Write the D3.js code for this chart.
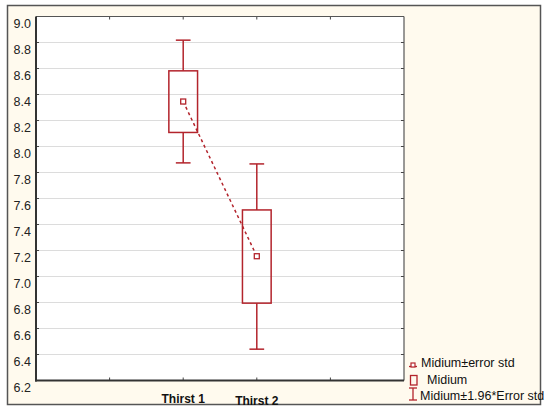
<!DOCTYPE html>
<html><head><meta charset="utf-8">
<script src="https://cdn.jsdelivr.net/npm/d3@7"></script>
<style>body{margin:0;background:#fff}svg{display:block}</style>
</head><body>
<svg id="c" width="550" height="414"></svg>
<script>
const categories = ["Thirst 1", "Thirst 2"];
const catPos = [2, 3];
const means = [8.346, 7.156];
const boxLow = [8.108, 6.795];
const boxHigh = [8.582, 7.512];
const whiskLow = [7.874, 6.441];
const whiskHigh = [8.818, 7.866];
const yTicks = [6.2, 6.4, 6.6, 6.8, 7.0, 7.2, 7.4, 7.6, 7.8, 8.0, 8.2, 8.4, 8.6, 8.8, 9.0];
const xTicks = [1, 2, 3, 4];
const legendLabels = ["Midium\u00b1error std", "Midium", "Midium\u00b11.96*Error std"];

const red = "#b3242c";
const svg = d3.select("#c");
const L = 36, R = 404, T = 16.5, B = 380.5;
const x = d3.scaleLinear().domain([0, 5]).range([L, R]);
const y = d3.scaleLinear().domain([6.2, 9.0]).range([B, T]);

// outer frame
svg.append("rect").attr("x", 7.5).attr("y", 5.5).attr("width", 533).attr("height", 399)
  .attr("fill", "#fffaee").attr("stroke", "#555").attr("stroke-width", 1.5);
// plot area
svg.append("rect").attr("x", L).attr("y", T).attr("width", R - L).attr("height", B - T).attr("fill", "#fff");

// gridlines
svg.append("g").selectAll("line").data(yTicks.filter(v => v > 6.2 && v < 9.0)).join("line")
  .attr("x1", L).attr("x2", R).attr("y1", d => y(d)).attr("y2", d => y(d))
  .attr("stroke", "#dcdcdc").attr("stroke-width", 1.2);

// y axis labels
svg.append("g").selectAll("text").data(yTicks).join("text")
  .attr("x", 31).attr("y", d => y(d) + 7).attr("text-anchor", "end").attr("dominant-baseline", "central")
  .attr("font-family", "Arial, Liberation Sans, sans-serif").attr("font-size", 12.5).attr("fill", "#222")
  .text(d => d.toFixed(1));

// ticks on right border
svg.append("g").selectAll("line").data(yTicks).join("line")
  .attr("x1", R - 3).attr("x2", R).attr("y1", d => y(d)).attr("y2", d => y(d))
  .attr("stroke", "#444").attr("stroke-width", 1);
// ticks on left axis
svg.append("g").selectAll("line").data(yTicks).join("line")
  .attr("x1", L).attr("x2", L + 3).attr("y1", d => y(d)).attr("y2", d => y(d))
  .attr("stroke", "#444").attr("stroke-width", 1);
// x ticks top & bottom
svg.append("g").selectAll("line").data(xTicks).join("line")
  .attr("x1", d => x(d)).attr("x2", d => x(d)).attr("y1", T).attr("y2", T + 3)
  .attr("stroke", "#444").attr("stroke-width", 1);
svg.append("g").selectAll("line").data(xTicks).join("line")
  .attr("x1", d => x(d)).attr("x2", d => x(d)).attr("y1", B - 3).attr("y2", B)
  .attr("stroke", "#444").attr("stroke-width", 1);

// plot borders
svg.append("line").attr("x1", L).attr("x2", R).attr("y1", T).attr("y2", T).attr("stroke", "#555").attr("stroke-width", 1.2);
svg.append("line").attr("x1", R).attr("x2", R).attr("y1", T).attr("y2", B).attr("stroke", "#555").attr("stroke-width", 1.2);
svg.append("line").attr("x1", L).attr("x2", L).attr("y1", T).attr("y2", B + 1).attr("stroke", "#333").attr("stroke-width", 2);
svg.append("line").attr("x1", L - 1).attr("x2", R).attr("y1", B).attr("y2", B).attr("stroke", "#333").attr("stroke-width", 2);

// x labels
svg.append("g").selectAll("text").data(categories).join("text")
  .attr("x", (d, i) => x(catPos[i])).attr("y", (d, i) => 402.5 + i * 2).attr("text-anchor", "middle")
  .attr("font-family", "Arial, Liberation Sans, sans-serif").attr("font-size", 12).attr("font-weight", "bold").attr("fill", "#111")
  .text(d => d);

const bw = 0.39, cw = 0.2;
const g = svg.append("g");
categories.forEach((c, i) => {
  const cx = x(catPos[i]);
  g.append("line").attr("x1", cx).attr("x2", cx).attr("y1", y(whiskHigh[i])).attr("y2", y(boxHigh[i]))
    .attr("stroke", red).attr("stroke-width", 1.5);
  g.append("line").attr("x1", cx).attr("x2", cx).attr("y1", y(boxLow[i])).attr("y2", y(whiskLow[i]))
    .attr("stroke", red).attr("stroke-width", 1.5);
  [whiskHigh[i], whiskLow[i]].forEach(v => {
    g.append("line").attr("x1", x(catPos[i] - cw / 2)).attr("x2", x(catPos[i] + cw / 2))
      .attr("y1", y(v)).attr("y2", y(v)).attr("stroke", red).attr("stroke-width", 1.5);
  });
  g.append("rect").attr("x", x(catPos[i] - bw / 2)).attr("y", y(boxHigh[i]))
    .attr("width", x(catPos[i] + bw / 2) - x(catPos[i] - bw / 2)).attr("height", y(boxLow[i]) - y(boxHigh[i]))
    .attr("fill", "none").attr("stroke", red).attr("stroke-width", 1.5);
});
// mean line
g.append("path").datum(means).attr("d", d3.line().x((d, i) => x(catPos[i])).y(d => y(d)))
  .attr("fill", "none").attr("stroke", red).attr("stroke-width", 1.5).attr("stroke-dasharray", "3,3");
// mean markers
g.selectAll("rect.m").data(means).join("rect").attr("class", "m")
  .attr("x", (d, i) => x(catPos[i]) - 2.5).attr("y", d => y(d) - 2.5).attr("width", 5).attr("height", 5)
  .attr("fill", "#fff").attr("stroke", red).attr("stroke-width", 1.3);

// legend
const lg = svg.append("g").attr("font-family", "Arial, Liberation Sans, sans-serif").attr("font-size", 12.5).attr("fill", "#111");
lg.append("line").attr("x1", 409).attr("x2", 417).attr("y1", 366.5).attr("y2", 366.5).attr("stroke", red).attr("stroke-width", 1.3);
lg.append("rect").attr("x", 411).attr("y", 363).attr("width", 4).attr("height", 4).attr("fill", "#fff").attr("stroke", red).attr("stroke-width", 1.2);
lg.append("text").attr("x", 421).attr("y", 363).attr("dominant-baseline", "central").text(legendLabels[0]);
lg.append("rect").attr("x", 410.5).attr("y", 375.5).attr("width", 6.5).attr("height", 9.5).attr("fill", "none").attr("stroke", red).attr("stroke-width", 1.3);
lg.append("text").attr("x", 427).attr("y", 380).attr("dominant-baseline", "central").text(legendLabels[1]);
lg.append("line").attr("x1", 413).attr("x2", 413).attr("y1", 388).attr("y2", 400).attr("stroke", red).attr("stroke-width", 1.3);
lg.append("line").attr("x1", 409).attr("x2", 417).attr("y1", 388).attr("y2", 388).attr("stroke", red).attr("stroke-width", 1.3);
lg.append("line").attr("x1", 409).attr("x2", 417).attr("y1", 400).attr("y2", 400).attr("stroke", red).attr("stroke-width", 1.3);
lg.append("text").attr("x", 420).attr("y", 395.5).attr("dominant-baseline", "central").text(legendLabels[2]);
</script>
</body></html>
